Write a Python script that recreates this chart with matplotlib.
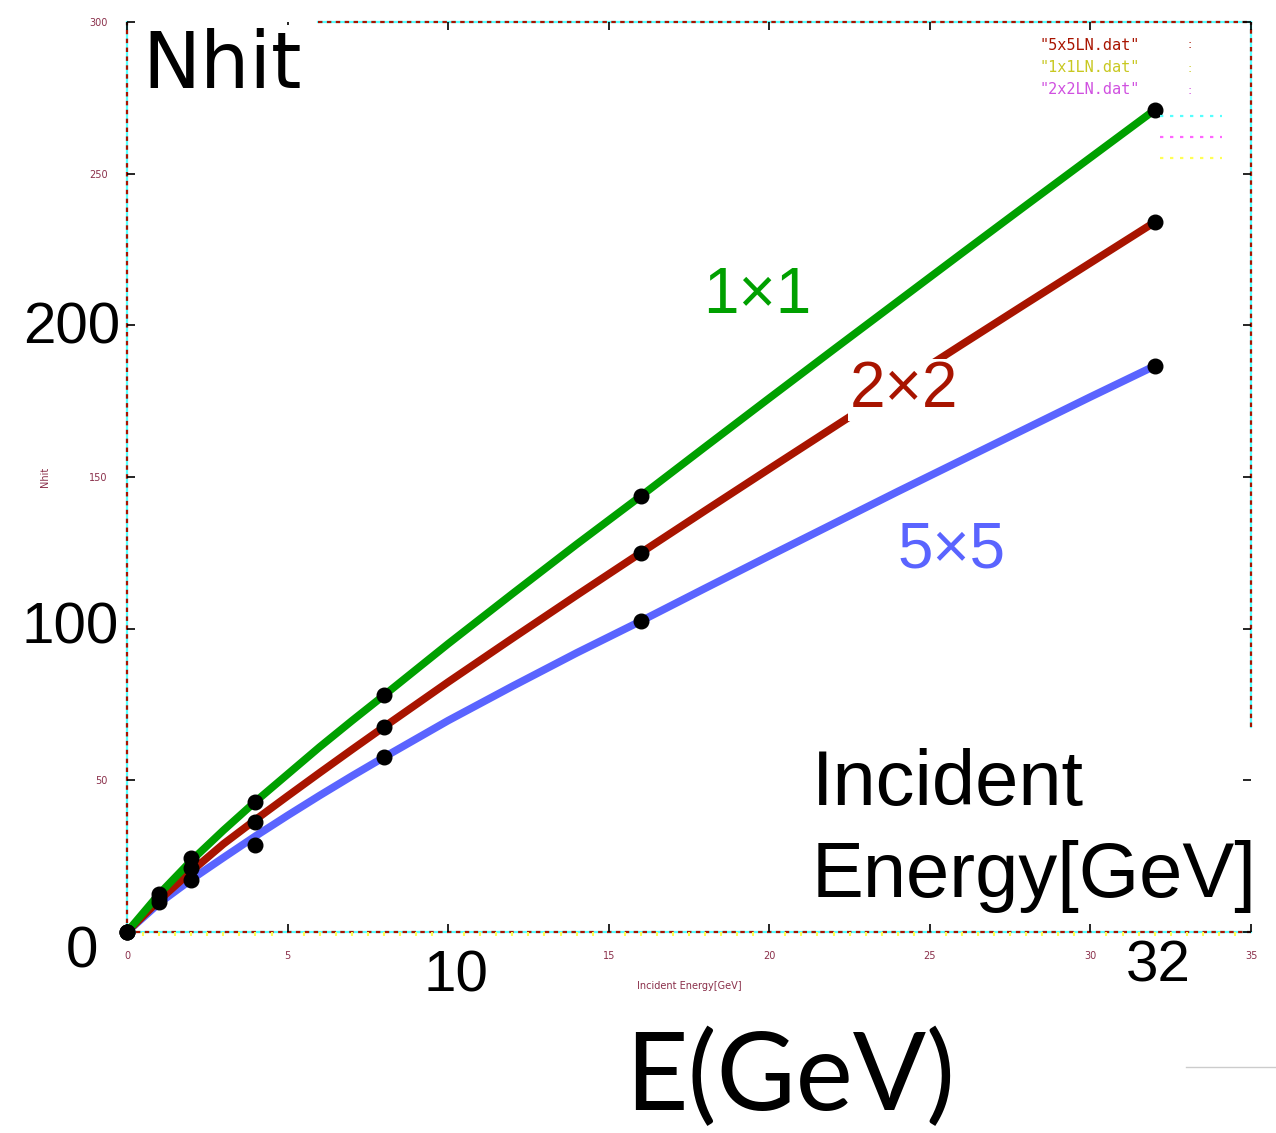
import matplotlib

matplotlib.use("Agg")
import matplotlib.pyplot as plt
from matplotlib import font_manager
from matplotlib.lines import Line2D

# measured points (black dots)
energy = [0, 1, 2, 4, 8, 16, 32]
nhit_1x1 = [0, 12.5, 24.4, 43.0, 78.0, 143.7, 271.0]
nhit_2x2 = [0, 11.2, 21.0, 36.3, 67.6, 125.0, 234.0]
nhit_5x5 = [0, 10.0, 17.0, 28.7, 57.7, 102.5, 186.6]

# fitted curves
energy_fit = [0, 1, 2, 3, 4, 5, 6, 7, 8, 10, 12, 14, 16, 18, 20, 22, 24, 26, 28, 30, 32]
fit_1x1 = [0, 12.5, 23.5, 33.5, 43, 52, 61, 69.6, 78, 95, 111.5, 127.8, 143.7,
           159.9, 176.0, 192.0, 207.9, 223.8, 239.6, 255.3, 271.0]
fit_2x2 = [0, 10.5, 20, 29, 37, 44.8, 52.5, 60.1, 67.6, 82.4, 96.8, 111.0, 125.0,
           138.9, 152.7, 166.4, 180.1, 193.7, 207.2, 220.6, 234.0]
fit_5x5 = [0, 9.5, 17.3, 24.5, 31.6, 38.4, 45.0, 51.4, 57.6, 69.7, 81.0, 92.0, 102.5,
           113.3, 124.0, 134.6, 145.2, 155.6, 166.0, 176.4, 186.6]

x_ticks = [0, 5, 10, 15, 20, 25, 30, 35]
x_tick_labels = ["0", "5", "", "15", "20", "25", "30", "35"]
y_ticks = [0, 50, 100, 150, 200, 250, 300]
y_tick_labels = ["", "50", "", "150", "", "250", "300"]

GREEN = "#00a000"
RED = "#a81400"
BLUE = "#5a64ff"
CYAN = "#55ffff"
TINY = "#8a2f4a"

W, H = 1276, 1133


def pick(*names):
    have = {f.name for f in font_manager.fontManager.ttflist}
    return [n for n in names if n in have] + ["DejaVu Sans"]


NARROW = pick("Liberation Sans Narrow", "Liberation Sans")
ROUND = pick("Lato", "Open Sans")


def fx(px):
    return px / W


def fy(py):
    return 1 - py / H


fig = plt.figure(figsize=(W / 100, H / 100), dpi=100)
fig.patch.set_facecolor("white")
ax = fig.add_axes([fx(127), fy(932), fx(1251) - fx(127), fy(22) - fy(932)])
ax.set_xlim(0, 35)
ax.set_ylim(0, 300)

for s in ax.spines.values():
    s.set_visible(False)


# gnuplot-ish dotted frame: cyan under dark red dashes
def frame(xs, ys):
    ax.plot(xs, ys, color=CYAN, lw=1.6, transform=ax.transAxes, clip_on=False, zorder=1)
    ax.plot(xs, ys, color=RED, lw=1.6, dashes=(2, 2), transform=ax.transAxes,
            clip_on=False, zorder=1)


frame([0, 1], [0, 0])
frame([0, 0], [0, 1])
frame([0.17, 1], [1, 1])
frame([1, 1], [0.225, 1])

ax.set_xticks(x_ticks, x_tick_labels)
ax.set_yticks(y_ticks, y_tick_labels)
ax.set_xticks([x / 2 for x in range(1, 70)], minor=True)
ax.tick_params(which="major", direction="in", length=6, width=1.2, color="black",
               labelsize=7, labelcolor=TINY, top=True, right=True)
ax.tick_params(axis="x", which="major", pad=14)
ax.tick_params(axis="y", which="major", pad=14)
ax.tick_params(which="minor", direction="out", length=3, width=1.5, color="#ffff55")
ax.tick_params(axis="y", which="minor", length=0)
ax.set_xlabel("Incident Energy[GeV]", fontsize=7, color=TINY, labelpad=14)
ax.set_ylabel("Nhit", fontsize=7, color=TINY, labelpad=28)

ax.plot(energy_fit, fit_5x5, color=BLUE, lw=5.5, solid_capstyle="butt", zorder=2)
ax.plot(energy_fit, fit_2x2, color=RED, lw=5.5, solid_capstyle="butt", zorder=2)
ax.plot(energy_fit, fit_1x1, color=GREEN, lw=5.5, solid_capstyle="butt", zorder=2)
for series in (nhit_1x1, nhit_2x2, nhit_5x5):
    ax.plot(energy, series, "o", color="black", ms=10.5, zorder=3, clip_on=False)

# curve labels (white box hides the line behind them)
box = dict(facecolor="white", edgecolor="none", pad=1)
ax.text(fx(757), fy(296), "1×1", transform=fig.transFigure, fontsize=46, color=GREEN,
        family=NARROW, ha="center", va="center", bbox=box, zorder=4)
ax.text(fx(904), fy(390), "2×2", transform=fig.transFigure, fontsize=46, color=RED,
        family=NARROW, ha="center", va="center", bbox=box, zorder=4)
ax.text(fx(952), fy(551), "5×5", transform=fig.transFigure, fontsize=46, color=BLUE,
        family=NARROW, ha="center", va="center", bbox=box, zorder=4)

# small key in the upper right corner
key = [('"5x5LN.dat"', RED, 45), ('"1x1LN.dat"', "#c8c820", 68), ('"2x2LN.dat"', "#d050e0", 90)]
for label, col, py in key:
    fig.text(fx(1140), fy(py), label, fontsize=11, color=col, ha="right", va="center",
             family="DejaVu Sans Mono")
    fig.text(fx(1190), fy(py), ":", fontsize=9, color=col, ha="center", va="center")
for col, py in ((CYAN, 116), ("#ff66ff", 137), ("#ffff55", 158)):
    fig.add_artist(Line2D([fx(1160), fx(1222)], [fy(py), fy(py)], color=col, lw=1.6,
                          dashes=(1.5, 3)))

# big annotations on top of the frame
fig.text(fx(142), fy(88), "Nhit", fontsize=56, family="DejaVu Sans", ha="left",
         va="baseline", bbox=dict(facecolor="white", edgecolor="none", pad=2))
for txt, px, py in (("0", 82, 952), ("100", 70, 629), ("200", 72, 328),
                    ("10", 456, 977), ("32", 1158, 966)):
    fig.text(fx(px), fy(py), txt, fontsize=42, family=NARROW, ha="center", va="center",
             bbox=dict(facecolor="white", edgecolor="none", pad=1))
for txt, py in (("Incident", 805), ("Energy[GeV]", 897)):
    fig.text(fx(812), fy(py), txt, fontsize=56, family=NARROW, ha="left",
             va="baseline", bbox=dict(facecolor="white", edgecolor="none", pad=3))
fig.text(fx(790), fy(1110), "E(GeV)", fontsize=78, family=ROUND, ha="center",
         va="baseline")
fig.add_artist(Line2D([fx(1186), fx(1276)], [fy(1067), fy(1067)], color="#cccccc", lw=1))

fig.savefig("out.png", dpi=100, facecolor="white")
